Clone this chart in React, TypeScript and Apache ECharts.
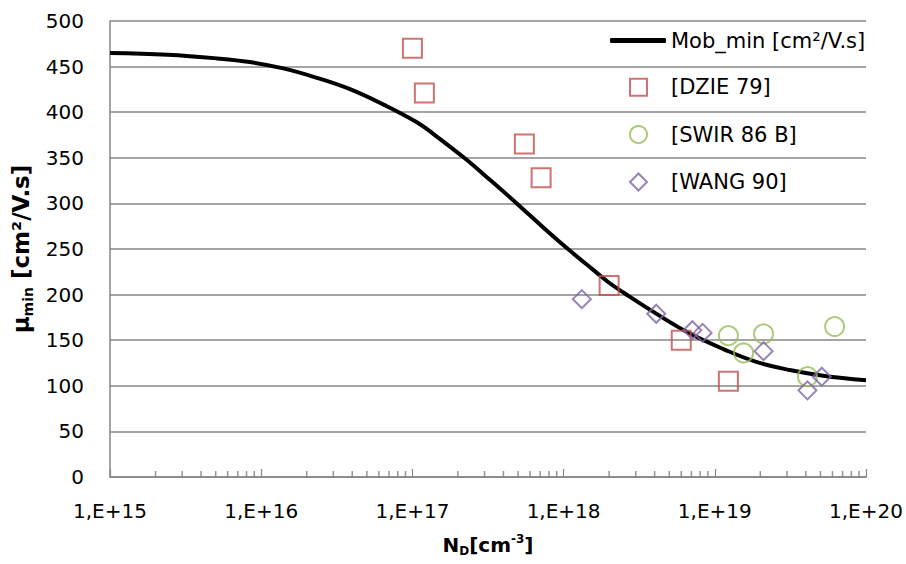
import React, { useEffect, useRef } from "react";
import * as echarts from "echarts";

// Mob_min curve (N_D [cm^-3], mobility [cm²/V.s])
const curveN = [1e15, 2.4e15, 5.1e15, 8.4e15, 1.4e16, 2.3e16, 3.9e16, 6.5e16, 1.07e17, 1.38e17, 2.2e17, 3.3e17, 4.9e17, 7.4e17, 1.05e18, 1.6e18, 2e18, 2.5e18, 4.2e18, 6.9e18, 1.15e19, 1.9e19, 3.2e19, 5.2e19, 1e20];
const curveMu = [465, 463, 459, 455, 448, 438, 425, 408, 389, 376, 350, 325, 300, 273, 251, 226, 213, 202, 178, 157, 140, 126, 117, 111, 106];

const dzieN = [1e17, 1.2e17, 5.5e17, 7.1e17, 2e18, 6e18, 1.23e19];
const dzieMu = [470, 421, 365, 328, 210, 150, 105];

const swirN = [1.23e19, 1.55e19, 2.1e19, 4.1e19, 6.2e19];
const swirMu = [155, 136, 157, 110, 165];

const wangN = [1.32e18, 4.1e18, 7.1e18, 8.3e18, 2.1e19, 4.1e19, 5.1e19];
const wangMu = [195, 179, 161, 158, 138, 95, 110];

const seriesNames = ["Mob_min [cm²/V.s]", "[DZIE 79]", "[SWIR 86 B]", "[WANG 90]"];
const decades = [1e15, 1e16, 1e17, 1e18, 1e19];
const minorMultipliers = [2, 3, 4, 5, 6, 7, 8, 9];

const FONT = "'DejaVu Sans', sans-serif";
const GRID_COLOR = "#868686";

const zip = (xs: number[], ys: number[]) => xs.map((x, i) => [x, ys[i]]);

export default function App() {
  const ref = useRef<HTMLDivElement>(null);
  useEffect(() => {
    if (!ref.current) return;
    const chart = echarts.init(ref.current, undefined, { renderer: "svg" });
    const minorTicks: number[][] = [];
    decades.forEach((d) => minorMultipliers.forEach((m) => minorTicks.push([m * d, 0])));
    const legendText = { fontFamily: FONT, fontSize: 21, color: "#000", lineHeight: 20 };
    chart.setOption({
      animation: false,
      backgroundColor: "#fff",
      grid: { left: 110, right: 40, top: 21, bottom: 87, containLabel: false },
      legend: [
        {
          orient: "vertical",
          left: 610,
          top: 30,
          padding: 0,
          itemWidth: 56,
          itemHeight: 5,
          data: [{ name: seriesNames[0], icon: "roundRect" }],
          textStyle: legendText,
        },
        {
          orient: "vertical",
          left: 629,
          top: 76.7,
          padding: 0,
          itemWidth: 17,
          itemHeight: 17,
          itemGap: 26.4,
          data: seriesNames.slice(1),
          textStyle: { ...legendText, padding: [0, 0, 0, 19] },
        },
      ],
      xAxis: {
        type: "log",
        logBase: 10,
        min: 1e15,
        max: 1e20,
        name: "{b|N}{sub|D}{b|[cm}{sup|-3}{b|]}",
        nameLocation: "middle",
        nameGap: 56,
        nameTextStyle: {
          rich: {
            b: { fontFamily: FONT, fontSize: 20, fontWeight: "bold", color: "#000", lineHeight: 24 },
            sub: { fontFamily: FONT, fontSize: 12, fontWeight: "bold", color: "#000", verticalAlign: "bottom", lineHeight: 12 },
            sup: { fontFamily: FONT, fontSize: 12, fontWeight: "bold", color: "#000", verticalAlign: "top", lineHeight: 12 },
          },
        },
        axisLine: { show: true, lineStyle: { color: GRID_COLOR, width: 1.5 } },
        axisTick: { show: true, inside: true, length: 8, lineStyle: { color: GRID_COLOR, width: 1.2 } },
        splitLine: { show: false },
        axisLabel: {
          fontFamily: FONT,
          fontSize: 20,
          color: "#000",
          margin: 24,
          formatter: (v: number) => "1,E+" + Math.round(Math.log10(v)),
        },
      },
      yAxis: {
        type: "value",
        min: 0,
        max: 500,
        interval: 50,
        name: "{b|μ}{sub|min}{b| [cm²/V.s]}",
        nameLocation: "middle",
        nameGap: 73,
        nameTextStyle: {
          rich: {
            b: { fontFamily: FONT, fontSize: 23, fontWeight: "bold", color: "#000", lineHeight: 27 },
            sub: { fontFamily: FONT, fontSize: 14, fontWeight: "bold", color: "#000", verticalAlign: "bottom", lineHeight: 14 },
          },
        },
        axisLine: { show: true, lineStyle: { color: GRID_COLOR, width: 1.5 } },
        axisTick: { show: false },
        splitLine: { show: true, lineStyle: { color: GRID_COLOR, width: 1.5 } },
        axisLabel: { fontFamily: FONT, fontSize: 20, color: "#000", margin: 26 },
      },
      series: [
        {
          name: seriesNames[0],
          type: "line",
          data: zip(curveN, curveMu),
          smooth: 0.4,
          symbol: "none",
          lineStyle: { color: "#000", width: 4 },
          itemStyle: { color: "#000" },
          z: 3,
        },
        {
          name: seriesNames[1],
          type: "scatter",
          data: zip(dzieN, dzieMu),
          symbol: "rect",
          symbolSize: 19,
          itemStyle: { color: "transparent", borderColor: "#C0504D", borderWidth: 2 },
          z: 4,
        },
        {
          name: seriesNames[2],
          type: "scatter",
          data: zip(swirN, swirMu),
          symbol: "circle",
          symbolSize: 19,
          itemStyle: { color: "transparent", borderColor: "#9BBB59", borderWidth: 2 },
          z: 4,
        },
        {
          name: seriesNames[3],
          type: "scatter",
          data: zip(wangN, wangMu),
          symbol: "diamond",
          symbolSize: 18,
          itemStyle: { color: "transparent", borderColor: "#8064A2", borderWidth: 2 },
          z: 4,
        },
        {
          name: "minorTicks",
          type: "scatter",
          data: minorTicks,
          symbol: "rect",
          symbolSize: [1.5, 6],
          symbolOffset: [0, -3],
          itemStyle: { color: "#7a7a7a" },
          silent: true,
          z: 2,
        },
      ],
    });
    return () => chart.dispose();
  }, []);
  return <div ref={ref} style={{ position: "fixed", left: 0, top: 0, width: 906, height: 564 }} />;
}
